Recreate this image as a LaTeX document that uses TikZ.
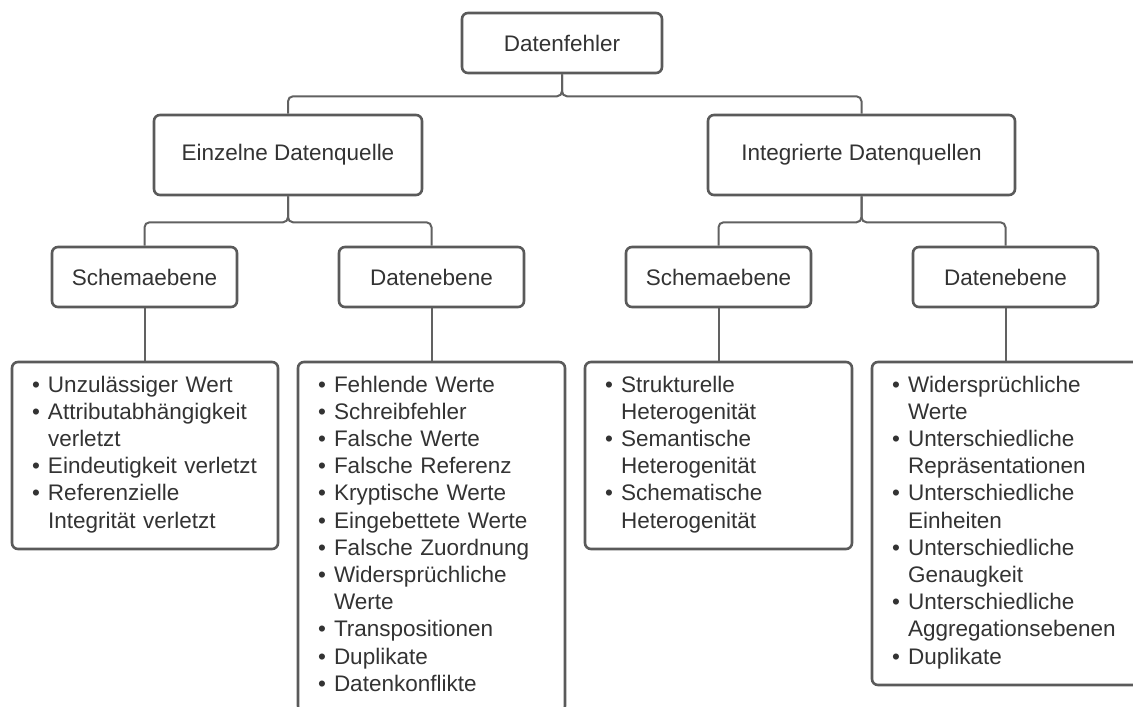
\documentclass[tikz,border=0pt]{standalone}
\usepackage{fontspec}
\setmainfont{Liberation Sans}
\definecolor{txt}{HTML}{333333}
\definecolor{edge}{HTML}{5A5A5A}
\definecolor{wire}{HTML}{616161}
% bullet with fixed indent, continuation indent, and line struts
\newcommand\itm{\makebox[16pt][l]{\textbullet}}
\newcommand\cnt{\hspace*{16pt}}
\newcommand\topstrut{\rule{0pt}{16pt}}
\newcommand\botstrut{\rule[-7pt]{0pt}{7pt}}
\begin{document}
\begin{tikzpicture}[x=1pt,y=-1pt,
  every node/.style={font=\fontsize{22.5pt}{27.2pt}\selectfont, text=txt},
  headbox/.style={draw=edge, line width=2.6pt, rounded corners=6pt, fill=white,
                  inner sep=0pt, minimum height=60pt},
  listbox/.style={draw=edge, line width=2.6pt, rounded corners=6pt, fill=white,
                  inner xsep=20pt, inner ysep=0pt, align=left},
  conn/.style={draw=wire, line width=2pt, rounded corners=5pt}]
\useasboundingbox (0,0) rectangle (1133,707);
\clip (0,0) rectangle (1133,707);

% hierarchy headers
\node[headbox, minimum width=200pt] (root) at (562,43) {Datenfehler};
\node[headbox, minimum width=268pt, minimum height=80pt] (single) at (288,155) {Einzelne Datenquelle};
\node[headbox, minimum width=307pt, minimum height=80pt] (multi) at (861.5,155) {Integrierte Datenquellen};
\node[headbox, minimum width=185pt] (s1) at (144.5,277) {Schemaebene};
\node[headbox, minimum width=185pt] (d1) at (431.5,277) {Datenebene};
\node[headbox, minimum width=185pt] (s2) at (718.5,277) {Schemaebene};
\node[headbox, minimum width=185pt] (d2) at (1005.5,277) {Datenebene};

% error lists
\node[listbox, minimum width=266pt, text width=226pt, minimum height=187pt] (l1) at (145,455.5)
 {\topstrut\itm Unzulässiger Wert\\
  \itm Attributabhängigkeit\\ \cnt verletzt\\
  \itm Eindeutigkeit verletzt\\
  \itm Referenzielle\\ \cnt Integrität verletzt\botstrut};
\node[listbox, minimum width=267pt, text width=227pt, minimum height=350pt] (l2) at (431.5,537)
 {\topstrut\itm Fehlende Werte\\
  \itm Schreibfehler\\
  \itm Falsche Werte\\
  \itm Falsche Referenz\\
  \itm Kryptische Werte\\
  \itm Eingebettete Werte\\
  \itm Falsche Zuordnung\\
  \itm Widersprüchliche\\ \cnt Werte\\
  \itm Transpositionen\\
  \itm Duplikate\\
  \itm Datenkonflikte\botstrut};
\node[listbox, minimum width=267pt, text width=227pt, minimum height=187pt] (l3) at (718.5,455.5)
 {\topstrut\itm Strukturelle\\ \cnt Heterogenität\\
  \itm Semantische\\ \cnt Heterogenität\\
  \itm Schematische\\ \cnt Heterogenität\botstrut};
\node[listbox, minimum width=268pt, text width=228pt, minimum height=323pt] (l4) at (1006,523.5)
 {\topstrut\itm Widersprüchliche\\ \cnt Werte\\
  \itm Unterschiedliche\\ \cnt Repräsentationen\\
  \itm Unterschiedliche\\ \cnt Einheiten\\
  \itm Unterschiedliche\\ \cnt Genaugkeit\\
  \itm Unterschiedliche\\ \cnt Aggregationsebenen\\
  \itm Duplikate\botstrut};

% branching points below each parent
\path (root.south) ++(0,22) coordinate (hr);
\path (single.south) ++(0,26) coordinate (hs);
\path (multi.south) ++(0,26) coordinate (hm);

% connectors
\draw[conn] (single.north) |- (hr) -- (root.south);
\draw[conn] (multi.north) |- (hr) -- (root.south);
\draw[conn] (s1.north) |- (hs) -- (single.south);
\draw[conn] (d1.north) |- (hs) -- (single.south);
\draw[conn] (s2.north) |- (hm) -- (multi.south);
\draw[conn] (d2.north) |- (hm) -- (multi.south);
\draw[conn] (s1.south) -- (s1.south |- l1.north);
\draw[conn] (d1.south) -- (d1.south |- l2.north);
\draw[conn] (s2.south) -- (s2.south |- l3.north);
\draw[conn] (d2.south) -- (d2.south |- l4.north);
\end{tikzpicture}
\end{document}
